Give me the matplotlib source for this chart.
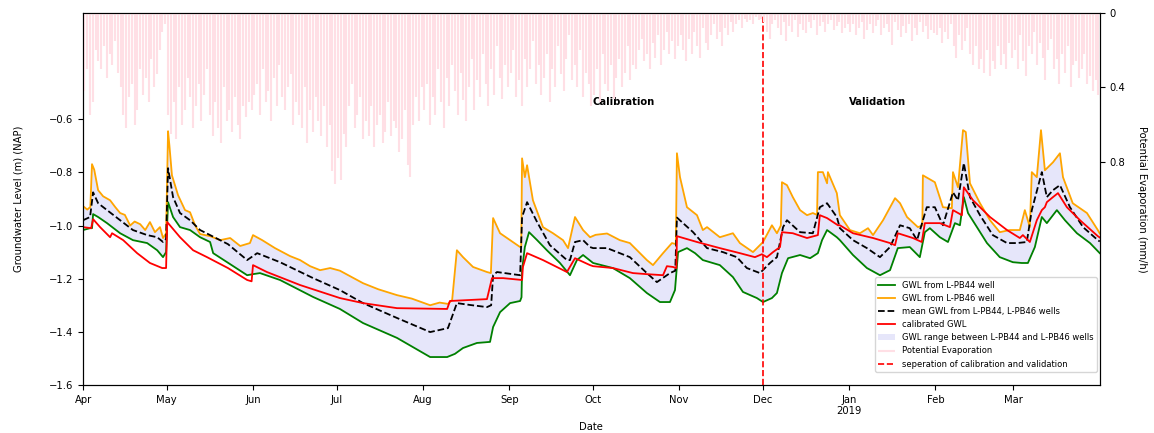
import numpy as np
import matplotlib
matplotlib.use('Agg')
import matplotlib.pyplot as plt
import matplotlib.dates as mdates
from datetime import datetime

plt.rcParams['font.size'] = 7.2

START = datetime(2018, 4, 1)

# groundwater readings: days since 2018-04-01 and level (m NAP)
pb46_day = [0, 1.5, 2.6, 3.2, 4.0, 5.4, 7.2, 9.7, 11.5, 13.3, 15, 16.9, 18.5, 20.5, 22.3, 24.0, 25.8, 27.6,
            28.7, 29.8, 30.5, 31.0, 31.9, 34.1, 36.6, 38.4, 40.2, 42.0, 45.6, 49.2, 52.8, 56.4, 59.9, 61.0,
            64.3, 68.9, 74.3, 77.9, 81.5, 85.1, 88.7, 92.2, 100.5, 106, 112.7, 118, 124.6, 128, 131.0, 132.5,
            134.2, 136.4, 140.0, 145.0, 146.4, 147.2, 149.7, 153.3, 156.9, 157.3, 157.6, 158.6, 159.4, 161.5,
            165.1, 168.7, 172.3, 174.1, 176.6, 179.5, 182.0, 184, 188.1, 192.7, 196.3, 202.4, 204.6, 208.2,
            211.4, 212.8, 213.2, 214.3, 216.8, 220.4, 222.5, 224.0, 228.6, 233.3, 235.8, 240.5, 244.1, 247.3,
            249.1, 250.5, 250.9, 252.7, 254.8, 257.4, 259.9, 262.0, 263.5, 263.8, 265.6, 267.1, 267.4, 270.6,
            271.7, 275.3, 278.9, 281.8, 283.6, 287.2, 291.5, 293.3, 295.8, 299.7, 301.3, 301.5, 303.3, 305.8,
            308.7, 311.9, 312.3, 314.1, 315.9, 316.9, 318.4, 322.0, 325.6, 329.1, 332.7, 336.3, 338.1, 339.9,
            340.6, 342.4, 343.9, 345.3, 348.2, 350.7, 351.8, 355.3, 360.4, 364.3, 365]
pb46_gwl = [-0.927, -0.94, -0.93, -0.769, -0.79, -0.867, -0.89, -0.905, -0.93, -0.953, -0.96, -1.0, -0.985,
            -0.995, -1.017, -0.987, -1.025, -1.006, -1.047, -1.03, -0.645, -0.70, -0.811, -0.886, -0.942,
            -0.950, -0.999, -1.032, -1.04, -1.055, -1.047, -1.077, -1.066, -1.036, -1.055, -1.085, -1.115,
            -1.13, -1.153, -1.168, -1.16, -1.17, -1.217, -1.24, -1.262, -1.275, -1.30, -1.29, -1.295, -1.28,
            -1.093, -1.119, -1.156, -1.175, -1.179, -0.972, -1.029, -1.055, -1.081, -1.08, -0.747, -0.818,
            -0.773, -0.905, -1.006, -1.029, -1.055, -1.085, -0.968, -1.017, -1.044, -1.035, -1.03, -1.055,
            -1.066, -1.13, -1.149, -1.104, -1.066, -1.07, -0.728, -0.818, -0.931, -0.961, -1.017, -1.006,
            -1.044, -1.029, -1.066, -1.10, -1.062, -0.999, -1.029, -1.0, -0.837, -0.848, -0.893, -0.942,
            -0.961, -0.953, -0.96, -0.799, -0.799, -0.841, -0.799, -0.878, -0.961, -1.017, -1.029, -1.010,
            -1.036, -0.980, -0.897, -0.916, -0.968, -1.006, -1.0, -0.811, -0.822, -0.837, -0.931, -0.935,
            -0.799, -0.856, -0.641, -0.648, -0.841, -0.916, -0.980, -1.025, -1.017, -1.017, -0.942, -1.006,
            -0.799, -0.818, -0.641, -0.792, -0.762, -0.728, -0.818, -0.916, -0.953, -1.017, -1.03]

pb44_day = [0, 2.5, 3.2, 3.6, 5.4, 8.6, 13.3, 17.9, 23.0, 26.6, 28.7, 29.8, 30.5, 32.3, 34.8, 38.4, 42.0,
            45.6, 46.7, 52, 58.9, 61.0, 63.5, 70.7, 82.6, 92.2, 100.5, 112.7, 124.6, 130.7, 133.5, 136.4,
            141.4, 146.1, 147.2, 149.7, 153.3, 156.9, 157.4, 157.6, 158.6, 160.1, 163.0, 166.5, 171.2, 174.8,
            177.3, 179.5, 183.1, 190.2, 196.3, 202.4, 207.1, 210.7, 212.5, 213.6, 216.8, 219.7, 222.5, 228.6,
            233.3, 236.9, 241.9, 244.1, 247.3, 249.1, 250.9, 253.1, 257.4, 261.0, 263.8, 265.3, 267.1, 270.6,
            271.7, 276.4, 281.4, 286.1, 289.7, 292.5, 296.8, 300.4, 302.2, 304.0, 307.6, 310.5, 313.0, 314.8,
            316.2, 317.7, 320.9, 324.5, 329.1, 333.8, 337.0, 339.2, 341.7, 344.2, 346.0, 349.6, 352.5, 356.8,
            361.5, 365]
pb44_gwl = [-1.017, -1.01, -1.01, -0.957, -0.968, -0.991, -1.029, -1.055, -1.066, -1.093, -1.119, -1.10,
            -0.912, -0.968, -1.006, -1.017, -1.044, -1.062, -1.104, -1.14, -1.187, -1.183, -1.179, -1.205,
            -1.269, -1.314, -1.367, -1.423, -1.495, -1.495, -1.483, -1.461, -1.442, -1.438, -1.382, -1.326,
            -1.292, -1.284, -1.27, -1.168, -1.081, -1.025, -1.055, -1.093, -1.141, -1.187, -1.130, -1.111,
            -1.141, -1.160, -1.198, -1.254, -1.288, -1.288, -1.243, -1.10, -1.085, -1.104, -1.130, -1.149,
            -1.194, -1.250, -1.273, -1.288, -1.273, -1.254, -1.179, -1.123, -1.111, -1.123, -1.104, -1.055,
            -1.017, -1.044, -1.055, -1.111, -1.160, -1.187, -1.168, -1.085, -1.081, -1.119, -1.025, -1.010,
            -1.044, -1.062, -0.991, -0.999, -0.893, -0.953, -1.006, -1.066, -1.119, -1.138, -1.141, -1.141,
            -1.081, -0.968, -0.991, -0.942, -0.980, -1.029, -1.066, -1.104]

mean_day = [0, 2.5, 3.6, 5.4, 8.6, 13.3, 17.9, 23.0, 26.6, 28.7, 29.8, 30.5, 32.3, 34.8, 38.4, 42.0, 45.6,
            52, 58.9, 62.5, 70.7, 82.6, 92.2, 100.5, 112.7, 124.6, 131.0, 134.2, 138.9, 145.0, 146.5, 147.2,
            148.6, 156.9, 157.6, 159.4, 163.0, 167.6, 173.7, 174.8, 176.6, 179.5, 182.0, 183.1, 188.1, 196.3,
            202.4, 206.0, 210.7, 212.6, 213.2, 215.4, 219.0, 224.0, 229.7, 234.7, 238.3, 243.0, 246.6, 249.1,
            251.3, 252.7, 257.4, 262.0, 264.5, 267.1, 270.6, 271.7, 276.4, 281.4, 286.1, 289.7, 293.3, 296.8,
            299.4, 302.9, 305.8, 308.7, 312.3, 314.1, 316.2, 318.4, 322.0, 326.6, 331.7, 335.3, 338.8, 340.6,
            344.2, 346.0, 348.2, 350.7, 354.3, 359.0, 364.3, 365]
mean_gwl = [-0.980, -0.968, -0.875, -0.916, -0.942, -0.980, -1.017, -1.036, -1.044, -1.062, -1.05, -0.784,
            -0.893, -0.953, -0.980, -1.017, -1.036, -1.07, -1.130, -1.104, -1.138, -1.198, -1.243, -1.292,
            -1.348, -1.401, -1.386, -1.292, -1.299, -1.307, -1.30, -1.187, -1.175, -1.187, -0.968, -0.912,
            -0.987, -1.074, -1.130, -1.130, -1.062, -1.055, -1.081, -1.085, -1.085, -1.119, -1.179, -1.213,
            -1.179, -1.17, -0.970, -0.991, -1.025, -1.085, -1.100, -1.119, -1.160, -1.179, -1.141, -1.119,
            -1.006, -0.980, -1.025, -1.029, -0.931, -0.916, -0.968, -1.010, -1.055, -1.085, -1.119, -1.081,
            -0.999, -1.010, -1.055, -0.931, -0.931, -0.999, -0.875, -0.905, -0.765, -0.893, -0.961, -1.036,
            -1.066, -1.066, -1.062, -0.942, -0.799, -0.893, -0.867, -0.848, -0.931, -1.006, -1.055, -1.06]

calib_day = [0, 2.9, 3.6, 6.1, 9.7, 10.4, 14.4, 19.4, 24.0, 28.4, 29.8, 30.2, 34.8, 39.5, 44.5, 52, 58.9,
             60.5, 61.0, 66.0, 77.9, 92.2, 100.5, 112.7, 130.7, 131.7, 145.0, 146.8, 150.8, 157.6, 157.9,
             159.4, 165.1, 173.7, 176.6, 182.0, 183.1, 190.2, 197.4, 202.4, 208.2, 209.6, 211.8, 213.0, 213.2,
             220.4, 228.6, 235.8, 241.2, 243.7, 245.5, 247.7, 250.2, 250.9, 254.8, 259.9, 263.8, 264.5, 267.1,
             271.0, 271.7, 276.4, 283.6, 289.7, 291.5, 292.5, 297.9, 301.1, 302.2, 307.6, 311.2, 312.3, 315.5,
             316.2, 319.5, 325.6, 331.7, 336.3, 337.4, 339.9, 342.4, 344.2, 345.3, 346.0, 348.2, 350.0, 353.2,
             357.9, 364.3, 365]
calib_gwl = [-1.006, -1.010, -0.976, -1.006, -1.044, -1.029, -1.055, -1.104, -1.141, -1.160, -1.16, -0.987,
             -1.044, -1.093, -1.119, -1.16, -1.205, -1.21, -1.149, -1.175, -1.224, -1.273, -1.292, -1.311,
             -1.314, -1.284, -1.277, -1.198, -1.198, -1.205, -1.156, -1.104, -1.130, -1.175, -1.123, -1.149,
             -1.153, -1.160, -1.179, -1.183, -1.187, -1.153, -1.156, -1.16, -1.040, -1.062, -1.085, -1.104,
             -1.119, -1.108, -1.119, -1.100, -1.081, -1.025, -1.029, -1.047, -1.036, -0.961, -0.972, -0.999,
             -0.999, -1.029, -1.047, -1.066, -1.074, -1.029, -1.047, -1.062, -0.991, -0.991, -1.006, -0.942,
             -0.961, -0.856, -0.905, -0.968, -1.017, -1.047, -1.036, -1.062, -0.980, -0.942, -0.931, -0.912,
             -0.893, -0.878, -0.931, -0.980, -1.040, -1.045]

# daily peak potential evaporation (mm/h), Apr 2018 - Mar 2019
evap_apr = [0.42, 0.30, 0.55, 0.48, 0.20, 0.26, 0.30, 0.18, 0.35, 0.22, 0.28, 0.15, 0.32, 0.40, 0.55, 0.62,
            0.45, 0.38, 0.60, 0.52, 0.30, 0.44, 0.35, 0.48, 0.25, 0.40, 0.33, 0.20, 0.10, 0.06]
evap_may = [0.55, 0.65, 0.48, 0.68, 0.40, 0.60, 0.52, 0.35, 0.45, 0.62, 0.50, 0.38, 0.58, 0.44, 0.30, 0.55,
            0.66, 0.48, 0.62, 0.70, 0.40, 0.58, 0.52, 0.64, 0.45, 0.60, 0.68, 0.50, 0.56, 0.48, 0.52]
evap_jun = [0.44, 0.38, 0.55, 0.30, 0.48, 0.42, 0.58, 0.35, 0.50, 0.28, 0.45, 0.52, 0.40, 0.33, 0.60, 0.48,
            0.55, 0.62, 0.40, 0.70, 0.52, 0.64, 0.45, 0.58, 0.66, 0.50, 0.72, 0.60, 0.85, 0.92]
evap_jul = [0.78, 0.90, 0.65, 0.72, 0.50, 0.38, 0.62, 0.55, 0.45, 0.68, 0.58, 0.66, 0.50, 0.72, 0.60, 0.55,
            0.70, 0.64, 0.48, 0.66, 0.58, 0.62, 0.75, 0.68, 0.52, 0.82, 0.88, 0.60, 0.45, 0.58, 0.40]
evap_aug = [0.52, 0.38, 0.60, 0.45, 0.55, 0.30, 0.48, 0.62, 0.35, 0.50, 0.28, 0.42, 0.55, 0.32, 0.47, 0.58,
            0.40, 0.25, 0.52, 0.36, 0.45, 0.22, 0.38, 0.50, 0.30, 0.44, 0.18, 0.35, 0.46, 0.28, 0.40]
evap_sep = [0.32, 0.20, 0.45, 0.36, 0.50, 0.25, 0.40, 0.30, 0.15, 0.38, 0.28, 0.44, 0.35, 0.22, 0.48, 0.30,
            0.40, 0.18, 0.33, 0.42, 0.25, 0.12, 0.36, 0.28, 0.40, 0.20, 0.45, 0.32, 0.38, 0.50]
evap_oct = [0.44, 0.30, 0.48, 0.22, 0.38, 0.42, 0.28, 0.46, 0.35, 0.25, 0.40, 0.32, 0.18, 0.36, 0.28, 0.30,
            0.20, 0.14, 0.26, 0.22, 0.30, 0.16, 0.24, 0.12, 0.28, 0.20, 0.10, 0.22, 0.15, 0.25, 0.18]
evap_nov = [0.12, 0.20, 0.26, 0.14, 0.22, 0.10, 0.18, 0.24, 0.08, 0.16, 0.20, 0.12, 0.06, 0.14, 0.10, 0.18,
            0.08, 0.12, 0.05, 0.10, 0.06, 0.04, 0.08, 0.03, 0.05, 0.04, 0.06, 0.02, 0.04, 0.03]
evap_dec = [0.05, 0.10, 0.14, 0.06, 0.04, 0.08, 0.12, 0.05, 0.15, 0.07, 0.10, 0.04, 0.13, 0.06, 0.09, 0.11,
            0.05, 0.08, 0.04, 0.12, 0.07, 0.05, 0.10, 0.06, 0.04, 0.09, 0.07, 0.05, 0.11, 0.08, 0.06]
evap_jan = [0.10, 0.06, 0.12, 0.08, 0.05, 0.14, 0.09, 0.06, 0.11, 0.07, 0.04, 0.12, 0.08, 0.06, 0.10, 0.17,
            0.05, 0.09, 0.13, 0.07, 0.11, 0.06, 0.15, 0.08, 0.12, 0.05, 0.10, 0.07, 0.14, 0.09, 0.11]
evap_feb = [0.12, 0.08, 0.16, 0.10, 0.14, 0.06, 0.18, 0.24, 0.12, 0.20, 0.15, 0.08, 0.22, 0.28, 0.18, 0.30,
            0.25, 0.32, 0.20, 0.34, 0.26, 0.30, 0.18, 0.28, 0.22, 0.30, 0.16, 0.24]
evap_mar = [0.20, 0.30, 0.12, 0.26, 0.34, 0.18, 0.22, 0.10, 0.28, 0.16, 0.24, 0.36, 0.20, 0.14, 0.30, 0.25,
            0.38, 0.22, 0.32, 0.18, 0.40, 0.28, 0.26, 0.35, 0.30, 0.22, 0.38, 0.34, 0.42, 0.36, 0.44]

month_labels = ['Apr', 'May', 'Jun', 'Jul', 'Aug', 'Sep', 'Oct', 'Nov', 'Dec', 'Jan\n2019', 'Feb', 'Mar']
month_starts = [datetime(2018, m, 1) for m in range(4, 13)] + [datetime(2019, m, 1) for m in range(1, 4)]
split_date = datetime(2018, 12, 1)


def to_num(days):
    return mdates.date2num(START) + np.asarray(days, dtype=float)


evap = np.concatenate([evap_apr, evap_may, evap_jun, evap_jul, evap_aug, evap_sep,
                       evap_oct, evap_nov, evap_dec, evap_jan, evap_feb, evap_mar])
evap_x = to_num(np.arange(len(evap)) + 0.5)

fig = plt.figure(figsize=(11.54, 4.33), dpi=100)
ax = fig.add_axes([0.072, 0.111, 0.881, 0.859])

x44, x46 = to_num(pb44_day), to_num(pb46_day)
rng = ax.fill(np.concatenate([x46, x44[::-1]]), np.concatenate([pb46_gwl, pb44_gwl[::-1]]),
              color='lavender', lw=0, label='GWL range between L-PB44 and L-PB46 wells')[0]
l44, = ax.plot(x44, pb44_gwl, color='green', lw=1.3, label='GWL from L-PB44 well')
l46, = ax.plot(x46, pb46_gwl, color='orange', lw=1.3, label='GWL from L-PB46 well')
lmean, = ax.plot(to_num(mean_day), mean_gwl, 'k--', lw=1.3, label='mean GWL from L-PB44, L-PB46 wells')
lcal, = ax.plot(to_num(calib_day), calib_gwl, color='red', lw=1.3, label='calibrated GWL')
lsplit = ax.axvline(mdates.date2num(split_date), color='red', ls='--', lw=1.2,
                    label='seperation of calibration and validation')

ax.text(mdates.date2num(datetime(2018, 10, 1)), -0.535, 'Calibration', fontweight='bold', va='center')
ax.text(mdates.date2num(datetime(2019, 1, 1)), -0.535, 'Validation', fontweight='bold', va='center')

ax.set_ylim(-1.6, -0.2)
ax.set_yticks([-1.6, -1.4, -1.2, -1.0, -0.8, -0.6])
ax.set_xlim(to_num(0), to_num(365))
ax.set_xticks(mdates.date2num(month_starts))
ax.set_xticklabels(month_labels)
ax.set_xlabel('Date')
ax.set_ylabel('Groundwater Level (m) (NAP)', labelpad=18)

# evaporation on an inverted secondary axis hanging from the top
ax2 = ax.twinx()
levap = ax2.vlines(evap_x, 0, evap, color='#ffdfe5', lw=1.5, label='Potential Evaporation')
ax2.set_ylim(2.0, 0)
ax2.set_yticks([0, 0.4, 0.8])
ax2.set_yticklabels(['0', '0.4', '0.8'])
ax2.set_ylabel('Potential Evaporation (mm/h)', rotation=270, labelpad=16)

handles = [l44, l46, lmean, lcal, rng, levap, lsplit]
ax2.legend(handles, [h.get_label() for h in handles], loc='lower right',
           bbox_to_anchor=(0.997, 0.035), borderaxespad=0, fontsize='small')

fig.savefig('out.png', dpi=100)
